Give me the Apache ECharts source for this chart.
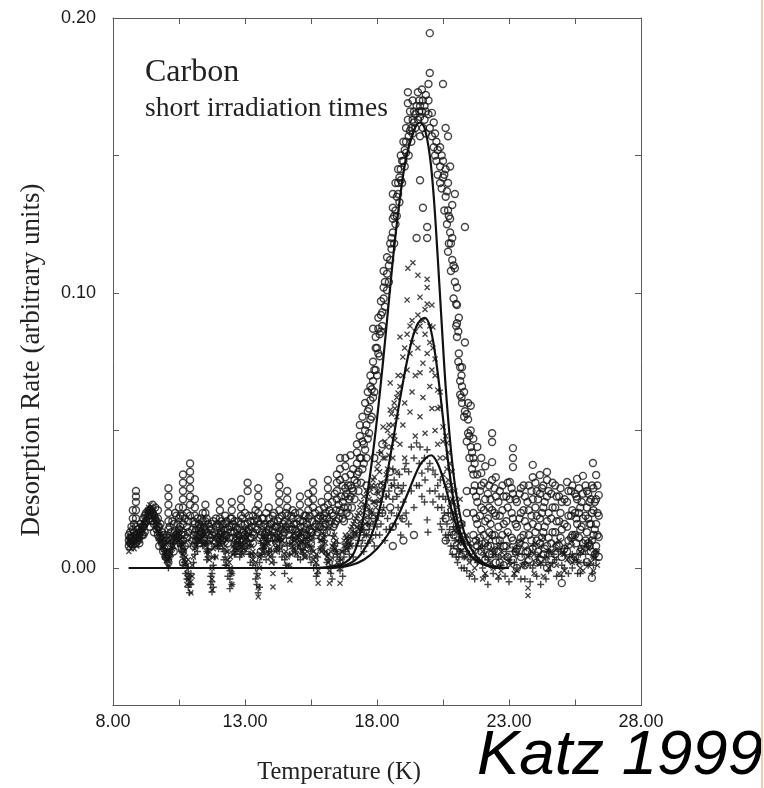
<!DOCTYPE html>
<html><head><meta charset="utf-8">
<script src="https://cdn.jsdelivr.net/npm/echarts@6/dist/echarts.min.js"></script>
<style>html,body{margin:0;padding:0;background:#fff}#c{width:764px;height:788px}</style>
</head><body><div id="c"></div><script>
const xTickValues = [8, 13, 18, 23, 28];
const yTickValues = [0, 0.1, 0.2];

// columns of readings: [temperature, [rates...]]
const circleCols = [
[8.6,[0.010,0.012,0.008]],[8.7,[0.011,0.015]],[8.75,[0.014,0.018,0.021]],
[8.87,[0.028,0.026,0.024,0.021,0.018,0.015,0.012,0.009]],[9.0,[0.011,0.013,0.009]],[9.1,[0.012,0.015]],
[9.2,[0.016,0.019,0.013]],[9.35,[0.019,0.021]],[9.5,[0.020,0.017,0.023]],[9.6,[0.022,0.018]],
[9.7,[0.021,0.018,0.015,0.012]],[9.8,[0.016,0.011]],[9.9,[0.012,0.009,0.006]],[10.0,[0.010,0.004]],
[10.1,[0.029,0.026,0.023,0.020,0.017,0.014,0.011,0.008,0.005,0.002]],[10.2,[0.009,0.013]],
[10.3,[0.006,0.010,0.016]],[10.4,[0.019,0.012]],[10.5,[0.018,0.022,0.014]],
[10.65,[0.034,0.031,0.028,0.025,0.022,0.019,0.016,0.013,0.010,0.006,0.002]],[10.8,[0.020,0.015,0.011]],
[10.92,[0.038,0.035,0.032,0.029,0.026,0.023,0.019]],[11.0,[0.014,0.010]],
[11.1,[0.025,0.022,0.019,0.016,0.013]],[11.2,[0.018,0.012]],[11.3,[0.012,0.009,0.015]],[11.4,[0.017,0.020]],
[11.5,[0.023,0.020,0.017,0.014]],[11.6,[0.012,0.016]],[11.7,[0.014,0.011,0.008]],[11.8,[0.010,0.017]],
[11.9,[0.015,0.018,0.012]],[12.05,[0.024,0.021,0.018,0.015,0.012]],[12.15,[0.016,0.010]],
[12.25,[0.012,0.016,0.019]],[12.35,[0.014,0.009]],[12.5,[0.024,0.021,0.018,0.015]],[12.6,[0.013,0.017]],
[12.7,[0.011,0.014,0.008]],[12.85,[0.025,0.022,0.019,0.016]],[12.95,[0.013,0.010]],
[13.1,[0.031,0.028,0.016,0.013]],[13.2,[0.017,0.011]],[13.3,[0.013,0.019,0.009]],[13.4,[0.015,0.021]],
[13.5,[0.029,0.026,0.023,0.020,0.017]],[13.6,[0.012,0.006]],[13.7,[0.010,0.015,0.018]],[13.8,[0.013,0.020]],
[13.9,[0.018,0.022,0.014]],[14.0,[0.011,0.016]],[14.1,[0.020,0.017,0.013]],[14.2,[0.009,0.015]],
[14.3,[0.033,0.030,0.027,0.024,0.021,0.018]],[14.45,[0.016,0.012]],[14.6,[0.028,0.025,0.022,0.019]],
[14.7,[0.010,0.014]],[14.8,[0.014,0.018,0.021]],[14.95,[0.012,0.016]],[15.08,[0.026,0.023,0.020,0.017]],
[15.15,[0.011,0.008]],[15.25,[0.015,0.012,0.019]],[15.4,[0.027,0.024,0.021,0.018]],[15.5,[0.013,0.009]],
[15.58,[0.031,0.028,0.025,0.022]],[15.7,[0.016,0.012]],[15.8,[0.018,0.015,0.021]],[15.9,[0.011,0.024]],
[16.0,[0.022,0.019,0.015]],[16.14,[0.032,0.029,0.026,0.023]],[16.25,[0.017,0.013]],[16.3,[0.020,0.024]],
[16.4,[0.027,0.016]],[16.48,[0.034,0.031,0.028,0.025]],[16.6,[0.040,0.036,0.032,0.021]],
[16.7,[0.024,0.018,0.030]],[16.8,[0.040,0.037,0.033,0.029,0.026]],[16.9,[0.022,0.030]],
[17.0,[0.030,0.034,0.041,0.026]],[17.1,[0.036,0.028]],[17.24,[0.045,0.042,0.038,0.034,0.031]],
[17.35,[0.048,0.052,0.040]],[17.45,[0.055,0.046,0.036]],[17.55,[0.060,0.050,0.043]],
[17.6,[0.030,0.022,0.015]],[17.65,[0.064,0.057,0.047]],[17.75,[0.070,0.066,0.061,0.054]],
[17.85,[0.075,0.068,0.062,0.087]],[17.9,[0.040,0.028,0.018]],[17.95,[0.084,0.080,0.072]],
[18.05,[0.087,0.078,0.091]],[18.15,[0.092,0.097,0.086]],[18.2,[0.045,0.030,0.020]],
[18.25,[0.102,0.098,0.108]],[18.38,[0.101,0.113,0.107]],[18.5,[0.118,0.112,0.035,0.022]],
[18.6,[0.136,0.127,0.122,0.131]],[18.7,[0.130,0.140,0.125]],[18.8,[0.140,0.136,0.145,0.028]],
[18.9,[0.145,0.150,0.141]],[19.0,[0.148,0.155]],[19.1,[0.151,0.155,0.160]],[19.17,[0.169,0.173,0.163]],
[19.25,[0.159,0.166]],[19.35,[0.163,0.158,0.170]],[19.45,[0.165,0.160]],[19.5,[0.120,0.168]],
[19.55,[0.173,0.163]],[19.63,[0.164,0.141,0.168,0.157]],[19.74,[0.131,0.170,0.160]],
[19.85,[0.166,0.172,0.158]],[19.9,[0.124,0.120]],[19.95,[0.176,0.170,0.165]],[20.0,[0.180,0.1945,0.160]],
[20.08,[0.1655,0.157]],[20.15,[0.162,0.153]],[20.25,[0.155,0.148]],[20.39,[0.153,0.146,0.140]],
[20.5,[0.148,0.142,0.176]],[20.6,[0.160,0.145,0.135]],[20.69,[0.157,0.140,0.115,0.130]],
[20.77,[0.146,0.127,0.122]],[20.85,[0.120,0.132,0.112]],[20.95,[0.136,0.109,0.104]],
[21.03,[0.102,0.0956,0.089,0.084]],[21.1,[0.078,0.091]],[21.15,[0.068,0.063,0.073]],
[21.22,[0.073,0.060,0.066]],[21.33,[0.082,0.124,0.057]],[21.45,[0.054,0.049,0.060]],
[21.55,[0.059,0.050,0.044]],[21.65,[0.047,0.040,0.034,0.028,0.020,0.012]],
[21.8,[0.044,0.034,0.024,0.016,0.008]],[21.95,[0.0345,0.040,0.030,0.022,0.014,0.006]],
[22.1,[0.037,0.025,0.017,0.009,0.003]],[22.25,[0.030,0.022,0.013,0.005]],
[22.36,[0.049,0.0458,0.0385,0.032,0.021,0.012,0.005]],[22.5,[0.033,0.026,0.019,0.010,0.002]],
[22.65,[0.028,0.019,0.010,0.002]],[22.8,[0.026,0.016,0.008,0.001]],[22.95,[0.031,0.022,0.013,0.004]],
[23.03,[0.0313,0.025]],[23.15,[0.0436,0.040,0.0367,0.027,0.018,0.010,0.003]],
[23.3,[0.024,0.015,0.007,0.000]],[23.45,[0.029,0.020,0.011,0.004]],[23.6,[0.026,0.017,0.008,0.001]],
[23.75,[0.030,0.021,0.012,0.003]],[23.9,[0.0375,0.033,0.025,0.016,0.007]],[24.05,[0.028,0.019,0.010,0.002]],
[24.17,[0.0338,0.027,0.018,0.009,0.003]],[24.3,[0.030,0.022,0.013,0.005]],
[24.44,[0.0349,0.032,0.026,0.017,0.008,0.000]],[24.6,[0.027,0.018,0.009,0.003]],
[24.75,[0.030,0.022,0.013,0.005]],[24.9,[0.026,0.017,0.008]],[25.0,[0.024,0.014,0.004,-0.0055]],
[25.2,[0.0313,0.024,0.015,0.006]],[25.35,[0.028,0.019,0.011,0.003]],[25.5,[0.027,0.020,0.012,0.004]],
[25.58,[0.0324,0.025,0.016]],[25.7,[0.022,0.014,0.006]],[25.8,[0.0335,0.027,0.018,0.009]],
[25.95,[0.022,0.013,0.0022,0.028]],[26.05,[0.024,0.016,0.008]],[26.14,[0.030,0.020,0.010,-0.0036]],
[26.18,[0.0382]],[26.3,[0.0338,0.025,0.016,0.008]],[26.4,[0.0265,0.019,0.0113,0.004]]
];
const circleColsDense = [
[8.65,[0.009,0.011,0.013]],[8.8,[0.010,0.013,0.016]],[8.95,[0.010,0.012,0.014]],[9.05,[0.013,0.016]],
[9.15,[0.015,0.018,0.012]],[9.25,[0.017,0.020]],[9.4,[0.018,0.015,0.021]],[9.55,[0.019,0.016,0.013]],
[9.65,[0.017,0.014]],[9.75,[0.015,0.011,0.008]],[9.85,[0.013,0.009]],[9.95,[0.011,0.007]],
[10.05,[0.008,0.012]],[10.15,[0.010,0.015]],[10.25,[0.011,0.017]],[10.35,[0.013,0.020]],
[10.45,[0.016,0.011]],[10.55,[0.015,0.019,0.009]],[10.6,[0.012,0.007]],[10.72,[0.018,0.012,0.008]],
[10.85,[0.017,0.013,0.009]],[11.05,[0.017,0.012,0.008]],[11.15,[0.014,0.010]],[11.25,[0.016,0.011]],
[11.35,[0.013,0.018]],[11.45,[0.015,0.010]],[11.55,[0.018,0.013]],[11.65,[0.010,0.015]],
[11.75,[0.012,0.016]],[11.85,[0.013,0.009]],[11.95,[0.016,0.011]],[12.1,[0.013,0.017]],
[12.2,[0.014,0.011]],[12.3,[0.017,0.012]],[12.4,[0.015,0.011]],[12.45,[0.018,0.013]],[12.55,[0.016,0.011]],
[12.65,[0.015,0.010]],[12.75,[0.017,0.012]],[12.8,[0.014,0.010]],[12.9,[0.018,0.013]],
[13.0,[0.016,0.012,0.020]],[13.15,[0.019,0.014]],[13.25,[0.015,0.011]],[13.35,[0.017,0.012]],
[13.45,[0.014,0.018]],[13.55,[0.016,0.011]],[13.65,[0.018,0.013]],[13.75,[0.012,0.016]],
[13.85,[0.015,0.011]],[13.95,[0.016,0.012]],[14.05,[0.014,0.019]],[14.15,[0.015,0.011]],
[14.25,[0.017,0.012]],[14.35,[0.015,0.011]],[14.4,[0.019,0.014]],[14.5,[0.017,0.013]],[14.55,[0.020,0.015]],
[14.65,[0.016,0.012]],[14.75,[0.019,0.015]],[14.85,[0.016,0.011]],[14.9,[0.020,0.014]],[15.0,[0.018,0.013]],
[15.1,[0.015,0.011]],[15.2,[0.017,0.013]],[15.3,[0.019,0.014]],[15.35,[0.016,0.012]],[15.45,[0.019,0.014]],
[15.55,[0.017,0.013]],[15.65,[0.020,0.015]],[15.75,[0.018,0.013]],[15.85,[0.019,0.015]],
[15.95,[0.018,0.014]],[16.05,[0.020,0.016]],[16.1,[0.018,0.013]],[16.2,[0.021,0.016]],[16.35,[0.019,0.015]],
[16.45,[0.021,0.017]],[16.55,[0.023,0.018]],[16.65,[0.026,0.020]],[16.75,[0.022,0.017]],
[16.85,[0.027,0.020]],[16.95,[0.025,0.019]],[17.05,[0.029,0.022]],[17.15,[0.032,0.025]],
[17.3,[0.035,0.028]],[17.4,[0.040,0.031]],[17.5,[0.045,0.038]],[17.6,[0.052,0.040]],[17.7,[0.058,0.049]],
[17.8,[0.065,0.055]],[17.9,[0.072,0.064]],[18.0,[0.080,0.070]],[18.1,[0.085,0.077]],[18.2,[0.093,0.088]],
[18.3,[0.104,0.095]],[18.45,[0.110,0.104]],[18.55,[0.120,0.116]],[18.65,[0.128,0.118]],
[18.75,[0.135,0.128]],[18.85,[0.142,0.133]],[18.95,[0.148,0.140]],[19.05,[0.152,0.146]],
[19.2,[0.157,0.150]],[19.3,[0.160,0.155]],[19.4,[0.166,0.162]],[19.6,[0.170,0.166]],[19.7,[0.166,0.174]],
[19.8,[0.163,0.168]],[20.2,[0.158,0.150]],[20.3,[0.152,0.143]],[20.45,[0.150,0.138]],[20.55,[0.143,0.130]],
[20.65,[0.137,0.125]],[20.72,[0.128,0.118]],[20.8,[0.118,0.108]],[20.9,[0.110,0.098]],[21.0,[0.096,0.088]],
[21.08,[0.086,0.075]],[21.2,[0.070,0.062]],[21.3,[0.064,0.055]],[21.4,[0.056,0.046]],[21.5,[0.048,0.040]],
[21.6,[0.042,0.036]],[21.7,[0.038,0.030]],
[18.6,[0.015,0.008]],[19.0,[0.018,0.010]],[19.4,[0.012]],[20.6,[0.010,0.018]],[20.9,[0.006,0.012]],
[21.2,[0.008,0.016]],[21.4,[0.010,0.020,0.028]],
[21.75,[0.026,0.018,0.010]],[21.9,[0.028,0.019,0.011]],[22.05,[0.031,0.021,0.012]],[22.2,[0.027,0.018,0.008]],
[22.3,[0.025,0.016,0.008]],[22.45,[0.029,0.020,0.012]],[22.6,[0.024,0.015,0.006]],[22.75,[0.030,0.021,0.012]],
[22.9,[0.026,0.017,0.008]],[23.1,[0.029,0.020,0.011]],[23.25,[0.025,0.016,0.006]],[23.4,[0.027,0.018,0.009]],
[23.55,[0.030,0.021,0.012]],[23.7,[0.024,0.015,0.006]],[23.85,[0.028,0.019,0.010]],[24.0,[0.031,0.022,0.013]],
[24.1,[0.025,0.015,0.006]],[24.25,[0.029,0.020,0.011]],[24.35,[0.024,0.015,0.007]],[24.5,[0.028,0.020,0.011]],
[24.65,[0.031,0.022,0.013]],[24.8,[0.026,0.017,0.008]],[24.95,[0.029,0.020,0.011]],[25.1,[0.025,0.016,0.007]],
[25.25,[0.028,0.019,0.010]],[25.4,[0.030,0.021,0.012]],[25.55,[0.026,0.018,0.009]],[25.65,[0.029,0.020,0.011]],
[25.75,[0.024,0.015,0.007]],[25.9,[0.030,0.019,0.010]],[26.0,[0.027,0.018,0.009]],[26.1,[0.025,0.016,0.006]],
[26.2,[0.029,0.021,0.012]],[26.25,[0.024,0.014,0.005]],[26.35,[0.030,0.020,0.012]]
];

const crossCols = [
[8.6,[0.008,0.010,0.006]],[8.7,[0.007,0.009]],[8.8,[0.009,0.007]],[8.9,[0.010,0.008]],[9.0,[0.012,0.010]],
[9.1,[0.014]],[9.2,[0.016,0.018]],[9.3,[0.019,0.021]],[9.4,[0.021,0.023]],[9.5,[0.022,0.020]],
[9.6,[0.019,0.017]],[9.7,[0.015]],[9.8,[0.012,0.010]],[9.9,[0.008]],[10.0,[0.004,0.006]],
[10.1,[0.001,0.003]],[10.2,[0.005]],[10.3,[0.008,0.011]],[10.4,[0.012]],[10.5,[0.014,0.010]],
[10.6,[0.009]],[10.7,[0.006,0.003]],[10.8,[-0.002,-0.006,0.001]],[10.95,[-0.009,-0.005]],[11.05,[0.004]],
[11.1,[0.010,0.007]],[11.2,[0.013]],[11.3,[0.016,0.012]],[11.4,[0.014]],[11.5,[0.012,0.008]],
[11.6,[0.005]],[11.75,[-0.008,-0.004,0.000]],[11.9,[0.008,0.004]],[12.0,[0.011]],[12.1,[0.014,0.010]],
[12.2,[0.012]],[12.3,[0.010,0.006]],[12.4,[0.002]],[12.5,[-0.006,-0.002]],[12.6,[0.007]],
[12.7,[0.012,0.009]],[12.8,[0.010]],[12.9,[0.008,0.005]],[13.0,[0.012]],[13.1,[0.015,0.011]],
[13.2,[0.009]],[13.3,[0.006,0.003]],[13.5,[-0.0105,-0.007,-0.003]],[13.6,[0.005]],[13.7,[0.012,0.008]],
[13.8,[0.010]],[13.9,[0.009,0.005]],[14.06,[-0.0069,-0.002]],[14.2,[0.011,0.007]],[14.3,[0.010]],
[14.4,[0.014,0.010]],[14.55,[0.006]],[14.7,[-0.0044,0.001]],[14.8,[0.008]],[14.9,[0.010,0.006]],
[15.0,[0.012]],[15.1,[0.013,0.009]],[15.2,[0.006]],[15.3,[0.008,0.004]],[15.4,[0.011]],
[15.5,[0.015,0.010]],[15.65,[0.004]],[15.77,[-0.0055,-0.001]],[15.9,[0.010,0.006]],[16.0,[0.012]],
[16.1,[0.004]],[16.2,[-0.0055,-0.001]],[16.3,[0.008]],[16.4,[0.012,0.007]],[16.5,[0.002]],
[16.6,[-0.0055,0.000]],[16.7,[0.006]],[16.8,[0.008,0.012]],[16.9,[0.010]],[17.0,[0.014,0.008]],
[17.1,[0.016]],[17.2,[0.018,0.012]],[17.3,[0.020,0.014]],[17.4,[0.024,0.016]],[17.5,[0.026,0.018]],
[17.6,[0.022,0.028,0.012]],[17.7,[0.025,0.016]],[17.8,[0.030,0.020,0.010]],[17.9,[0.033,0.024]],
[18.0,[0.028,0.036,0.018]],[18.1,[0.035,0.025]],[18.23,[0.0513,0.040,0.030]],[18.3,[0.040,0.046]],
[18.4,[0.050,0.036,0.026]],[18.5,[0.0673,0.0575,0.048]],[18.6,[0.052,0.040,0.030]],[18.68,[0.0465,0.058]],
[18.75,[0.055,0.062,0.035]],[18.8,[0.0636,0.070]],[18.87,[0.084,0.066,0.045]],[18.98,[0.0767,0.070,0.052]],
[19.05,[0.060,0.080,0.040]],[19.14,[0.0975,0.085,0.072]],[19.17,[0.109]],[19.25,[0.0567,0.078,0.088]],
[19.33,[0.090,0.082,0.064]],[19.36,[0.111]],[19.45,[0.070,0.086,0.048]],[19.55,[0.1065,0.092,0.080]],
[19.63,[0.0985,0.071,0.055,0.088]],[19.74,[0.090,0.0745,0.062]],[19.82,[0.049,0.085,0.094]],
[19.9,[0.105,0.102,0.096,0.078]],[20.0,[0.066,0.088,0.082]],[20.08,[0.0956,0.072,0.058]],
[20.12,[0.0876,0.080]],[20.2,[0.070,0.076,0.050]],[20.3,[0.0647,0.058,0.045]],[20.39,[0.0585,0.064,0.040]],
[20.5,[0.0513,0.046,0.034]],[20.6,[0.040,0.048,0.030]],[20.65,[0.0455,0.036]],[20.75,[0.038,0.028,0.022]],
[20.85,[0.035,0.025,0.018]],[20.95,[0.028,0.020,0.014]],[21.05,[0.022,0.016,0.010]],
[21.15,[0.025,0.012,0.006]],[21.25,[0.016,0.009]],[21.4,[0.012,0.004]],[21.6,[0.008,-0.002]],
[21.8,[0.010,0.003]],[22.0,[0.006,-0.004]],[22.15,[0.009]],[22.3,[0.011,0.002]],[22.45,[0.005]],
[22.6,[0.008,-0.003]],[22.75,[0.004]],[22.9,[0.012,0.004]],[23.05,[0.001]],[23.2,[0.007,-0.002]],
[23.35,[0.009]],[23.5,[0.010,0.001]],[23.72,[-0.0073,-0.010,0.004]],[23.85,[0.006]],[24.0,[0.009,0.002]],
[24.15,[0.005]],[24.3,[0.011,-0.003]],[24.45,[0.004]],[24.6,[0.006,0.001]],[24.75,[0.009]],
[24.9,[0.010,-0.002]],[25.05,[0.005]],[25.2,[0.008,0.003]],[25.35,[0.010]],[25.5,[0.012,0.004]],
[25.65,[0.002]],[25.8,[0.007,-0.001]],[25.95,[0.009]],[26.1,[0.010,0.002]],[26.25,[0.005]],
[26.35,[0.006,0.001]]
];
const crossColsDense = [
[8.65,[0.009,0.012]],[8.75,[0.008,0.011]],[8.85,[0.010,0.012]],[8.95,[0.011,0.013]],[9.05,[0.013,0.015]],
[9.15,[0.016,0.013]],[9.25,[0.018,0.020]],[9.35,[0.020,0.022]],[9.45,[0.022,0.019]],[9.55,[0.021,0.018]],
[9.65,[0.017,0.014]],[9.75,[0.013,0.011]],[9.85,[0.010,0.008]],[9.95,[0.006,0.004]],[10.05,[0.003,0.005]],
[10.15,[0.004,0.006]],[10.25,[0.007,0.009]],[10.35,[0.010,0.012]],[10.45,[0.013,0.011]],[10.55,[0.012,0.009]],
[10.65,[0.007,0.005]],[10.75,[0.002,0.004]],[10.85,[-0.004,0.003]],[11.0,[0.001,-0.003]],[11.15,[0.011,0.008]],
[11.25,[0.014,0.010]],[11.35,[0.015,0.011]],[11.45,[0.013,0.009]],[11.55,[0.009,0.006]],[11.65,[0.003,0.006]],
[11.8,[0.004,0.007]],[11.95,[0.009,0.012]],[12.05,[0.012,0.009]],[12.15,[0.013,0.010]],[12.25,[0.011,0.008]],
[12.35,[0.006,0.003]],[12.45,[0.000,0.004]],[12.55,[0.005,0.008]],[12.65,[0.010,0.007]],[12.75,[0.011,0.008]],
[12.85,[0.009,0.006]],[12.95,[0.010,0.007]],[13.05,[0.013,0.009]],[13.15,[0.012,0.008]],[13.25,[0.008,0.005]],
[13.4,[0.002,0.005]],[13.55,[0.004,0.000]],[13.65,[0.009,0.006]],[13.75,[0.011,0.008]],[13.85,[0.009,0.006]],
[13.95,[0.007,0.004]],[14.0,[0.002]],[14.15,[0.009,0.006]],[14.25,[0.012,0.008]],[14.35,[0.011,0.007]],
[14.5,[0.009,0.005]],[14.6,[0.004,0.001]],[14.75,[0.005,0.009]],[14.85,[0.011,0.007]],[14.95,[0.009,0.005]],
[15.05,[0.011,0.008]],[15.15,[0.010,0.006]],[15.25,[0.007,0.004]],[15.35,[0.009,0.006]],[15.45,[0.012,0.008]],
[15.55,[0.011,0.007]],[15.6,[0.006,0.003]],[15.7,[0.002,0.005]],[15.85,[0.007,0.010]],[15.95,[0.011,0.008]],
[16.05,[0.009,0.006]],[16.15,[0.005,0.002]],[16.25,[0.003,0.006]],[16.35,[0.009,0.011]],[16.45,[0.010,0.006]],
[16.55,[0.004,0.001]],[16.65,[0.003,0.006]],[16.75,[0.008,0.010]],[16.85,[0.011,0.007]],[16.95,[0.012,0.009]],
[17.05,[0.015,0.011]],[17.15,[0.017,0.013]],[17.25,[0.019,0.015]],[17.35,[0.022,0.017]],[17.45,[0.020,0.014]],
[17.55,[0.023,0.016]],[17.65,[0.027,0.019]],[17.75,[0.029,0.021]],[17.85,[0.032,0.024]],[17.95,[0.030,0.022]],
[18.05,[0.038,0.027]],[18.15,[0.042,0.031]],[18.35,[0.044,0.034]],[18.45,[0.052,0.041]],[18.55,[0.056,0.044]],
[18.65,[0.060,0.048]],
[20.7,[0.042,0.032]],[20.8,[0.030,0.024]],[20.9,[0.024,0.017]],[21.0,[0.019,0.013]],[21.1,[0.015,0.009]],
[21.2,[0.012,0.006]],[21.3,[0.010,0.004]],[21.5,[0.009,0.002]],[21.7,[0.006,0.000]],[21.9,[0.008,0.002]],
[22.1,[0.005,-0.002]],[22.4,[0.007,0.000]],[22.7,[0.006,-0.001]],[23.0,[0.008,0.002]],[23.3,[0.005,-0.001]],
[23.6,[0.007,0.001]],[23.95,[0.005,-0.002]],[24.2,[0.008,0.002]],[24.5,[0.006,0.000]],[24.8,[0.007,0.001]],
[25.1,[0.005,-0.001]],[25.4,[0.008,0.002]],[25.7,[0.006,0.000]],[26.0,[0.007,0.001]],[26.2,[0.004,-0.001]]
];

const plusCols = [
[8.6,[0.009,0.011]],[8.7,[0.008]],[8.8,[0.011,0.009]],[8.9,[0.012]],[9.0,[0.013,0.011]],[9.15,[0.015]],
[9.3,[0.018,0.016]],[9.4,[0.020]],[9.5,[0.020,0.018]],[9.6,[0.018]],[9.7,[0.016,0.013]],[9.8,[0.012]],
[9.9,[0.010,0.007]],[10.0,[0.005]],[10.1,[0.003,0.000]],[10.25,[0.007]],[10.4,[0.010,0.013]],
[10.5,[0.011]],[10.6,[0.006,0.009]],[10.7,[0.002]],[10.8,[-0.004,0.000]],[10.9,[-0.009,-0.006,-0.003]],
[11.05,[0.002]],[11.2,[0.006,0.009]],[11.3,[0.011]],[11.4,[0.012,0.008]],[11.5,[0.009]],
[11.6,[0.004,0.007]],[11.75,[-0.0087,-0.005,-0.002]],[11.85,[0.004]],[12.0,[0.010,0.007]],[12.1,[0.009]],
[12.2,[0.006,0.003]],[12.3,[0.001]],[12.43,[-0.0075,-0.004,-0.001]],[12.6,[0.008,0.005]],[12.7,[0.006]],
[12.8,[0.004,0.009]],[12.9,[0.007]],[13.0,[0.011,0.006]],[13.1,[0.008]],[13.2,[0.002,0.005]],
[13.4,[-0.004,0.000]],[13.5,[-0.009]],[13.6,[0.009,0.004]],[13.7,[0.007]],[13.8,[0.003,0.010]],
[14.0,[0.012,0.006]],[14.1,[0.002]],[14.3,[0.006,0.010]],[14.5,[-0.002,0.003]],[14.6,[0.008]],
[14.8,[0.007,0.011]],[15.0,[0.004,0.008]],[15.2,[0.009,0.005]],[15.35,[0.011]],[15.5,[0.002,0.006]],
[15.7,[-0.003,0.001]],[15.85,[0.007]],[16.0,[0.006,0.010]],[16.15,[0.003]],[16.3,[-0.004,0.001]],
[16.4,[0.008]],[16.5,[0.005,0.009]],[16.7,[0.001,-0.003]],[16.8,[0.006]],[16.9,[0.007,0.011]],
[17.0,[0.009]],[17.1,[0.004,0.013]],[17.3,[0.010,0.015]],[17.4,[0.008]],[17.5,[0.006,0.012]],
[17.65,[0.016,0.009]],[17.8,[0.012,0.020]],[17.9,[0.008]],[18.0,[0.015,0.024]],[18.1,[0.042,0.012]],
[18.2,[0.020,0.028]],[18.3,[0.010]],[18.4,[0.018,0.032]],[18.5,[0.014]],[18.6,[0.025,0.036]],
[18.7,[0.016]],[18.8,[0.022,0.030]],[18.9,[0.012]],[19.0,[0.030,0.024]],[19.1,[0.020,0.038]],
[19.2,[0.035,0.016]],[19.3,[0.028,0.044]],[19.4,[0.040,0.022]],[19.5,[0.0455,0.030]],[19.6,[0.030,0.038]],
[19.63,[0.044]],[19.7,[0.0345,0.026]],[19.8,[0.024,0.040]],[19.82,[0.032]],[19.9,[0.043,0.0175]],
[19.93,[0.013,0.036]],[20.0,[0.038,0.028]],[20.12,[0.0356,0.024]],[20.2,[0.028,0.034]],
[20.3,[0.022,0.030]],[20.4,[0.032,0.016]],[20.5,[0.018,0.026]],[20.6,[0.025,0.012]],[20.7,[0.012,0.020]],
[20.8,[0.020,0.008]],[20.9,[0.008,0.015]],[21.0,[0.015,0.004]],[21.1,[0.004,0.010]],[21.2,[0.010,0.000]],
[21.4,[0.006,-0.001]],[21.55,[0.003]],[21.7,[0.004,-0.004]],[21.85,[0.007]],[22.0,[0.008,0.000]],
[22.2,[-0.006,0.003]],[22.4,[0.005,-0.002]],[22.55,[0.007]],[22.7,[0.009,0.001]],[22.85,[-0.003]],
[23.0,[0.003,-0.005]],[23.15,[0.006]],[23.3,[0.007,0.000]],[23.45,[-0.004]],[23.6,[0.002,-0.004]],
[23.75,[0.005]],[23.9,[0.008,0.000]],[24.05,[-0.003]],[24.2,[0.001,-0.006]],[24.35,[0.004]],
[24.5,[0.006,-0.001]],[24.65,[0.002]],[24.8,[0.003,-0.003]],[24.95,[0.006]],[25.1,[0.007,0.000]],
[25.25,[-0.002]],[25.4,[0.000,0.005]],[25.55,[0.003]],[25.7,[0.005,-0.002]],[25.85,[0.002]],
[26.0,[0.008,0.001]],[26.15,[-0.002]],[26.3,[0.003,0.006]]
];
const plusColsDense = [
[8.65,[0.010]],[8.75,[0.010,0.012]],[8.95,[0.012]],[9.1,[0.014,0.016]],[9.2,[0.017]],[9.35,[0.019,0.021]],
[9.45,[0.021]],[9.55,[0.019,0.017]],[9.65,[0.015]],[9.75,[0.013,0.010]],[9.85,[0.009]],[9.95,[0.006,0.004]],
[10.05,[0.002]],[10.15,[0.004,0.006]],[10.3,[0.009]],[10.45,[0.012,0.009]],[10.55,[0.008]],
[10.65,[0.004,0.001]],[10.75,[-0.002]],[10.85,[-0.007,-0.004,0.000]],[10.95,[-0.006,-0.002]],
[11.1,[0.005,0.008]],[11.25,[0.010]],[11.35,[0.012,0.009]],[11.45,[0.010]],[11.55,[0.006,0.003]],
[11.7,[-0.006,-0.003]],[11.8,[-0.007,0.001]],[11.95,[0.008]],[12.05,[0.011,0.008]],[12.15,[0.007]],
[12.25,[0.004,0.001]],[12.35,[-0.003]],[12.5,[-0.006,-0.002]],[12.55,[0.006]],[12.65,[0.009,0.005]],
[12.75,[0.007]],[12.85,[0.005,0.008]],[12.95,[0.009]],[13.05,[0.010,0.007]],[13.15,[0.005]],
[13.3,[0.001,0.004]],[13.45,[-0.006,-0.002]],[13.55,[-0.007,0.002]],[13.65,[0.007]],[13.75,[0.008,0.005]],
[13.9,[0.006]],[14.05,[0.010,0.004]],[14.2,[0.007]],[14.4,[0.008,0.004]],[14.55,[0.001]],[14.7,[0.005,0.009]],
[14.9,[0.006]],[15.1,[0.007,0.003]],[15.3,[0.010]],[15.45,[0.004,0.008]],[15.6,[0.000]],[15.75,[-0.002,0.004]],
[15.95,[0.008]],[16.1,[0.005,0.002]],[16.25,[-0.002]],[16.35,[0.004,0.007]],[16.45,[0.006]],
[16.6,[0.003,-0.001]],[16.75,[0.004]],[16.85,[0.009]],[16.95,[0.005,0.008]],[17.05,[0.011]],
[17.2,[0.008,0.012]],[17.35,[0.013]],[17.45,[0.010,0.014]],[17.6,[0.012]],[17.7,[0.014,0.018]],[17.85,[0.016]],
[17.95,[0.018,0.012]],[18.05,[0.020]],[18.15,[0.016,0.024]],[18.25,[0.022]],[18.35,[0.026,0.014]],
[18.45,[0.028]],[18.55,[0.020,0.030]],[18.65,[0.032]],[18.75,[0.026,0.019]],[18.85,[0.034]],
[18.95,[0.028,0.018]],[19.05,[0.036]],
[20.35,[0.026]],[20.45,[0.022,0.014]],[20.55,[0.020]],[20.65,[0.016,0.010]],[20.75,[0.014]],
[20.85,[0.012,0.005]],[20.95,[0.010]],[21.05,[0.007,0.002]],[21.15,[0.006]],[21.3,[0.004,0.000]],
[21.5,[0.005,-0.003]],[21.8,[0.002]],[22.1,[0.004,-0.003]],[22.3,[0.001]],[22.6,[0.004,-0.004]],[22.9,[0.006]],
[23.2,[0.002,-0.003]],[23.5,[0.005]],[23.8,[0.001,-0.005]],[24.1,[0.004]],[24.4,[0.002,-0.004]],[24.7,[0.005]],
[25.0,[0.001,-0.003]],[25.3,[0.004]],[25.6,[0.002,-0.002]],[25.9,[0.005]],[26.2,[0.001,0.004]]
];

// fitted curves
const fitHigh = [[8.6,0],[15.5,0],[16.3,0.0005],[16.8,0.002],[17.1,0.005],[17.35,0.012],[17.6,0.025],[17.85,0.042],[18.1,0.063],[18.35,0.087],[18.6,0.112],[18.85,0.133],[19.1,0.149],[19.4,0.159],[19.62,0.162],[19.8,0.160],[20.0,0.150],[20.15,0.135],[20.3,0.113],[20.45,0.089],[20.6,0.066],[20.8,0.043],[21.0,0.027],[21.3,0.013],[21.7,0.005],[22.2,0.001],[23.0,0]];
const fitMid = [[8.6,0],[16.0,0],[16.8,0.001],[17.3,0.004],[17.7,0.010],[18.0,0.018],[18.3,0.030],[18.6,0.046],[18.9,0.063],[19.2,0.078],[19.5,0.088],[19.8,0.091],[20.0,0.088],[20.2,0.078],[20.4,0.063],[20.6,0.046],[20.8,0.031],[21.0,0.019],[21.3,0.009],[21.7,0.003],[22.3,0.0005],[23.0,0]];
const fitLow = [[8.6,0],[16.3,0],[17.0,0.001],[17.5,0.003],[18.0,0.007],[18.4,0.012],[18.8,0.019],[19.2,0.028],[19.6,0.037],[19.85,0.040],[20.05,0.041],[20.3,0.038],[20.55,0.031],[20.8,0.022],[21.05,0.014],[21.3,0.008],[21.6,0.004],[22.0,0.0015],[22.6,0],[23.0,0]];

const flatten = cols => cols.flatMap(([t, ys]) => ys.map(y => [t, y]));
const isTick = (v, list) => list.some(t => Math.abs(t - v) < 1e-6);

const axisColor = '#5a5a5a';
const commonX = {type:'value', min:8, max:28, interval:2.5,
  axisLine:{show:true, onZero:false, lineStyle:{color:axisColor, width:1}},
  axisTick:{show:true, inside:true, length:6, lineStyle:{color:axisColor, width:1}},
  splitLine:{show:false}};
const commonY = {type:'value', min:-0.05, max:0.2, interval:0.05,
  axisLine:{show:true, onZero:false, lineStyle:{color:axisColor, width:1}},
  axisTick:{show:true, inside:true, length:6, lineStyle:{color:axisColor, width:1}},
  splitLine:{show:false}};

const chart = echarts.init(document.getElementById('c'));
const crossPath = 'path://M0,1.5L1.5,0L5,3.5L8.5,0L10,1.5L6.5,5L10,8.5L8.5,10L5,6.5L1.5,10L0,8.5L3.5,5Z';
const plusPath = 'path://M4,0H6V4H10V6H6V10H4V6H0V4H4Z';
const lineStyle = {color:'#111', width:2.2};

chart.setOption({
  animation:false,
  backgroundColor:'#fff',
  grid:{left:113, right:123, top:18, bottom:82.5},
  xAxis:[
    Object.assign({}, commonX, {position:'bottom',
      axisLabel:{show:true, margin:8, fontFamily:'Liberation Sans', fontSize:18, color:'#1a1a1a',
        formatter:v => isTick(v, xTickValues) ? v.toFixed(2) : ''}}),
    Object.assign({}, commonX, {position:'top', axisLabel:{show:false}})
  ],
  yAxis:[
    Object.assign({}, commonY, {position:'left',
      axisLabel:{show:true, margin:17, fontFamily:'Liberation Sans', fontSize:18, color:'#1a1a1a',
        formatter:v => isTick(v, yTickValues) ? v.toFixed(2) : ''}}),
    Object.assign({}, commonY, {position:'right', axisLabel:{show:false}})
  ],
  graphic:[
    {type:'text', x:145, y:73, style:{text:'Carbon', font:'32px "Liberation Serif"', fill:'#222', verticalAlign:'middle'}},
    {type:'text', x:145, y:109, style:{text:'short irradiation times', font:'27.5px "Liberation Serif"', fill:'#222', verticalAlign:'middle'}},
    {type:'text', x:32, y:360, rotation:Math.PI/2, style:{text:'Desorption Rate (arbitrary units)', font:'27px "Liberation Serif"', fill:'#222', align:'center', verticalAlign:'middle'}},
    {type:'text', x:339, y:773, style:{text:'Temperature (K)', font:'24.5px "Liberation Serif"', fill:'#222', align:'center', verticalAlign:'middle'}},
    {type:'text', x:477, y:756, style:{text:'Katz 1999', font:'italic 63.5px "Liberation Sans"', fill:'#000', verticalAlign:'middle'}},
    {type:'line', shape:{x1:762, y1:0, x2:762, y2:788}, style:{stroke:'#e3d2ad', lineWidth:2}}
  ],
  series:[
    {type:'scatter', data:flatten(circleCols.concat(circleColsDense)), symbol:'circle', symbolSize:7, silent:true,
      itemStyle:{color:'rgba(0,0,0,0)', borderColor:'#151515', borderWidth:1.4}, z:2},
    {type:'scatter', data:flatten(crossCols.concat(crossColsDense)), symbol:crossPath, symbolSize:6, silent:true,
      itemStyle:{color:'#151515'}, z:3},
    {type:'scatter', data:flatten(plusCols.concat(plusColsDense)), symbol:plusPath, symbolSize:7, silent:true,
      itemStyle:{color:'#151515'}, z:3},
    {type:'line', data:fitHigh, smooth:0.35, showSymbol:false, silent:true, lineStyle:lineStyle, z:5},
    {type:'line', data:fitMid, smooth:0.35, showSymbol:false, silent:true, lineStyle:lineStyle, z:5},
    {type:'line', data:fitLow, smooth:0.35, showSymbol:false, silent:true, lineStyle:lineStyle, z:5}
  ]
});
</script></body></html>
